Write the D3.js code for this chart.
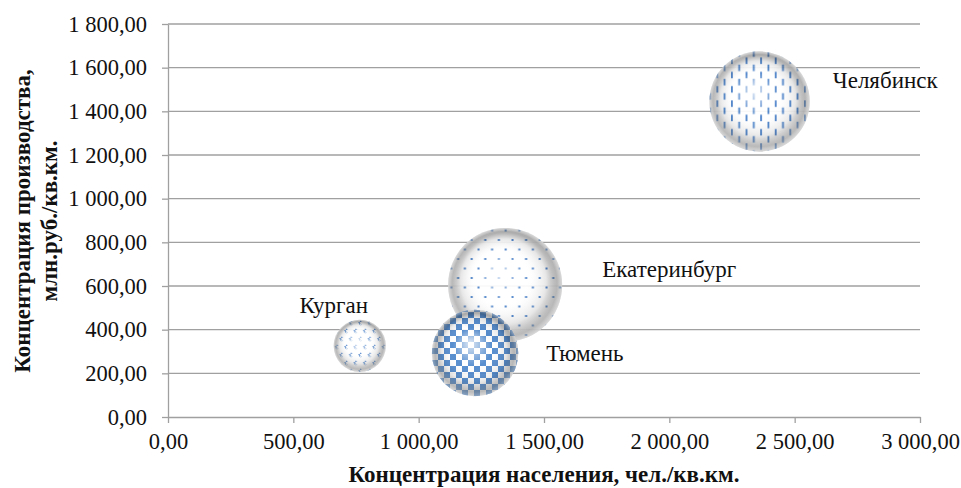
<!DOCTYPE html>
<html><head><meta charset="utf-8">
<script src="https://cdn.jsdelivr.net/npm/d3@7"></script>
<style>
html,body{margin:0;padding:0;background:#fff;}
svg{display:block;}
svg text{font-family:"Liberation Serif","Times New Roman","DejaVu Serif",serif;fill:#111;}
</style></head>
<body>
<script>
// ---- data ----
const regions = ["Челябинск", "Екатеринбург", "Тюмень", "Курган"];
const populationDensity = [2360, 1345, 1225, 765];   // x, чел./кв.км.
const productionDensity = [1445, 605, 293, 326];      // y, млн.руб./кв.км.
const bubbleSize = [3330, 4300, 2470, 900];
const patterns = ["dashes", "dots", "checker", "chevrons"];
const xTicks = [0, 500, 1000, 1500, 2000, 2500, 3000];
const yTicks = [0, 200, 400, 600, 800, 1000, 1200, 1400, 1600, 1800];
const xTitle = "Концентрация населения, чел./кв.км.";
const yTitle = ["Концентрация производства,", "млн.руб./кв.км."];

// label placement (layout, not data)
const labelOffset = {
  "Челябинск": {side: "right", dx: 23, dy: -21},
  "Екатеринбург": {side: "right", dx: 40, dy: -15},
  "Тюмень": {side: "right", dx: 28, dy: 0},
  "Курган": {side: "top", dx: -26, dy: -14}
};

const FONT = '"Liberation Serif","Times New Roman","DejaVu Serif",serif';
const W = 961, H = 488;
const svg = d3.select("body").append("svg").attr("width", W).attr("height", H)
  .style("font-family", FONT);
const x = d3.scaleLinear().domain([0, 3000]).range([168, 920]);
const y = d3.scaleLinear().domain([0, 1800]).range([417, 24]);
const r = d3.scaleSqrt().domain([0, 4300]).range([0, 57]);

const fmt = v => {
  const s = d3.format(",.2f")(v);
  return s.replace(/,/g, " ").replace(".", ",");
};

const defs = svg.append("defs");
const blue = "#3f7ac6";
// patterns
const pDash = defs.append("pattern").attr("id", "dashes").attr("patternUnits", "userSpaceOnUse")
  .attr("width", 14.6).attr("height", 14.3);
pDash.append("rect").attr("width", 14.6).attr("height", 14.3).attr("fill", "#fff");
pDash.append("rect").attr("x", 1).attr("y", 0.3).attr("width", 1.8).attr("height", 6.5).attr("fill", blue);
pDash.append("rect").attr("x", 8.3).attr("y", 7.4).attr("width", 1.8).attr("height", 6.5).attr("fill", blue);

const pDot = defs.append("pattern").attr("id", "dots").attr("patternUnits", "userSpaceOnUse")
  .attr("width", 13.6).attr("height", 19);
pDot.append("rect").attr("width", 13.6).attr("height", 19).attr("fill", "#fff");
pDot.append("rect").attr("x", 1.5).attr("y", 1.5).attr("width", 2).attr("height", 2).attr("fill", blue);
pDot.append("rect").attr("x", 8.3).attr("y", 11).attr("width", 2).attr("height", 2).attr("fill", blue);

const pChk = defs.append("pattern").attr("id", "checker").attr("patternUnits", "userSpaceOnUse")
  .attr("width", 12).attr("height", 12);
pChk.append("rect").attr("width", 12).attr("height", 12).attr("fill", "#fff");
pChk.append("rect").attr("width", 6).attr("height", 6).attr("fill", "#4d87cc");
pChk.append("rect").attr("x", 6).attr("y", 6).attr("width", 6).attr("height", 6).attr("fill", "#4d87cc");

const pChev = defs.append("pattern").attr("id", "chevrons").attr("patternUnits", "userSpaceOnUse")
  .attr("width", 9.4).attr("height", 16);
pChev.append("rect").attr("width", 9.4).attr("height", 16).attr("fill", "#fff");
pChev.append("path").attr("d", "M4,1 L1.5,3 L4,5").attr("fill", "none").attr("stroke", blue).attr("stroke-width", 1.2).attr("stroke-dasharray", "1.2,0.8");
pChev.append("path").attr("d", "M8.7,9 L6.2,11 L8.7,13").attr("fill", "none").attr("stroke", blue).attr("stroke-width", 1.2).attr("stroke-dasharray", "1.2,0.8");

// sphere shading
const sh = defs.append("radialGradient").attr("id", "shade")
  .attr("cx", "50%").attr("cy", "50%").attr("r", "50%").attr("fx", "44%").attr("fy", "38%");
[[0, "#fff", 0.8], [0.45, "#fff", 0.0], [0.75, "#000", 0.1], [0.92, "#000", 0.38], [1, "#000", 0.25]]
  .forEach(([o, c, a]) => sh.append("stop").attr("offset", o).attr("stop-color", c).attr("stop-opacity", a));
const shB = defs.append("radialGradient").attr("id", "rim")
  .attr("cx", "50%").attr("cy", "50%").attr("r", "50%").attr("fx", "50%").attr("fy", "20%");
[[0.8, "#fff", 0], [1, "#fff", 0.35]]
  .forEach(([o, c, a]) => shB.append("stop").attr("offset", o).attr("stop-color", c).attr("stop-opacity", a));

// gridlines
const gridColor = "#a0a0a0";
svg.append("g").selectAll("line").data(yTicks.filter(d => d > 0)).join("line")
  .attr("x1", x(0)).attr("x2", x(3000)).attr("y1", d => y(d)).attr("y2", d => y(d))
  .attr("stroke", gridColor).attr("stroke-width", 1.3);

// axes
const gx = svg.append("g").attr("transform", `translate(0,${y(0)})`)
  .call(d3.axisBottom(x).tickValues(xTicks).tickFormat(fmt).tickSize(6).tickSizeOuter(0).tickPadding(10));
const gy = svg.append("g").attr("transform", `translate(${x(0)},0)`)
  .call(d3.axisLeft(y).tickValues(yTicks).tickFormat(fmt).tickSize(6).tickSizeOuter(0).tickPadding(15));
[gx, gy].forEach(g => {
  g.attr("font-family", FONT).attr("font-size", 22.5);
  g.select(".domain").attr("stroke", gridColor).attr("stroke-width", 1.3);
  g.selectAll(".tick line").attr("stroke", gridColor).attr("stroke-width", 1.3);
  g.selectAll("text").attr("fill", "#111");
});

// bubbles
const data = regions.map((name, i) => ({name, px: populationDensity[i], py: productionDensity[i], s: bubbleSize[i], pat: patterns[i]}))
  .sort((a, b) => b.s - a.s);
const gb = svg.append("g");
data.forEach(d => {
  const g = gb.append("g").attr("opacity", 0.93);
  g.append("circle").attr("cx", x(d.px)).attr("cy", y(d.py)).attr("r", r(d.s)).attr("fill", `url(#${d.pat})`);
  g.append("circle").attr("cx", x(d.px)).attr("cy", y(d.py)).attr("r", r(d.s)).attr("fill", "url(#shade)");
  g.append("circle").attr("cx", x(d.px)).attr("cy", y(d.py)).attr("r", r(d.s)).attr("fill", "url(#rim)");
});

// labels
data.forEach(d => {
  const o = labelOffset[d.name];
  const cx = x(d.px), cy = y(d.py), rr = r(d.s);
  const t = svg.append("text").attr("font-size", 23).text(d.name).attr("dominant-baseline", "central");
  if (o.side === "right") t.attr("x", cx + rr + o.dx).attr("y", cy + o.dy).attr("text-anchor", "start");
  else t.attr("x", cx + o.dx).attr("y", cy - rr + o.dy).attr("text-anchor", "middle");
});

// titles
svg.append("text").attr("x", 544).attr("y", 482).attr("text-anchor", "middle")
  .attr("font-size", 23).attr("font-weight", "bold").text(xTitle);
yTitle.forEach((t, i) => {
  svg.append("text").attr("transform", `translate(${30 + i * 27},221) rotate(-90)`)
    .attr("text-anchor", "middle").attr("font-size", 23).attr("font-weight", "bold").text(t);
});
</script>
</body></html>
